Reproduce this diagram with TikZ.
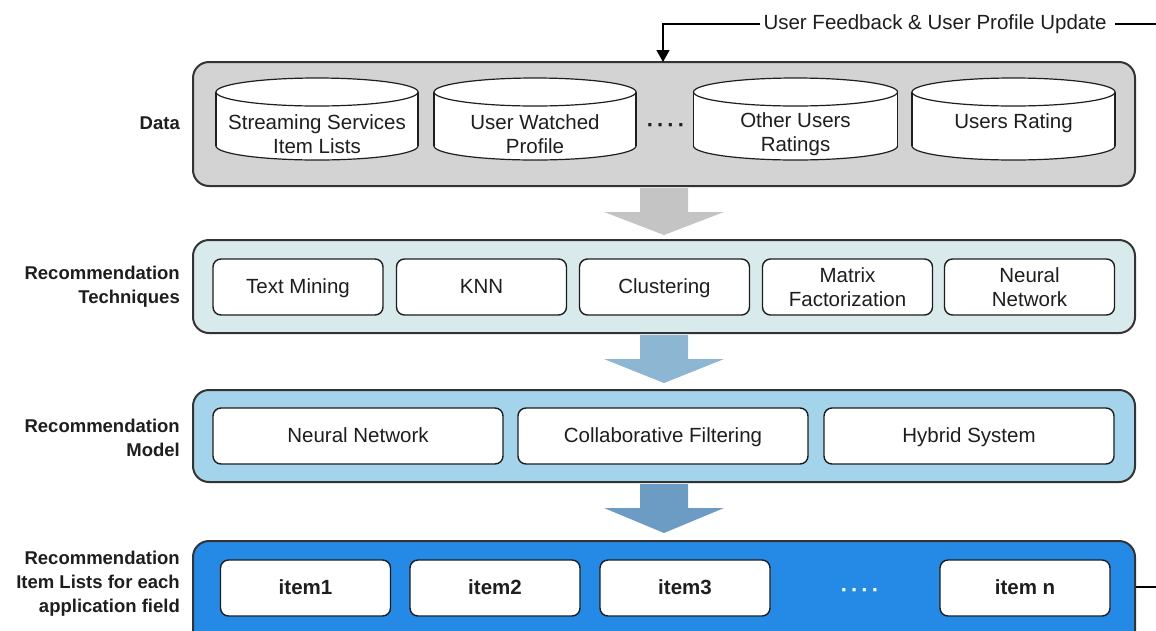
\documentclass[tikz,border=0pt]{standalone}
\usepackage{fontspec}
\setmainfont{Liberation Sans}
\usetikzlibrary{arrows.meta,calc}
\definecolor{txt}{HTML}{1E1E1E}
\definecolor{edge}{HTML}{333333}
\definecolor{datafill}{HTML}{D3D3D3}
\definecolor{techfill}{HTML}{D8EAEC}
\definecolor{modelfill}{HTML}{A3D4EC}
\definecolor{itemfill}{HTML}{2589E6}
\definecolor{arrowA}{HTML}{C4C4C4}
\definecolor{arrowB}{HTML}{8CB6D2}
\definecolor{arrowC}{HTML}{6C9CC4}
\tikzset{
  outerbox/.style={draw=edge, line width=2pt, rounded corners=16pt, inner sep=0pt},
  innerbox/.style={draw=txt, line width=1.4pt, fill=white, rounded corners=8pt, minimum height=56pt, align=center, text=txt, font=\fontsize{20.5}{24}\selectfont, inner sep=0pt},
  cyltext/.style={align=center, text=txt, font=\fontsize{20.5}{24}\selectfont, inner sep=0pt},
  oneline/.style={text height=17pt, text depth=4.5pt},
  dotstext/.style={text=txt, font=\bfseries\fontsize{22}{24}\selectfont, inner sep=0pt},
  sidelabel/.style={anchor=east, align=right, text=txt, font=\bfseries\fontsize{18.5}{24}\selectfont, inner sep=0pt},
  itemtext/.style={font=\bfseries\fontsize{20.5}{24}\selectfont},
  feedline/.style={line width=1.4pt, draw=black},
}
\newcommand{\dbcyl}[2]{% center x, half width
  \draw[fill=white, draw=txt, line width=1.2pt] (#1,146) ellipse [x radius=#2, y radius=14];
  \fill[white] (#1-#2,92) rectangle (#1+#2,146);
  \draw[draw=txt, line width=1.2pt] (#1-#2,92) -- (#1-#2,146) (#1+#2,92) -- (#1+#2,146);
  \draw[fill=white, draw=txt, line width=1.2pt] (#1,92) ellipse [x radius=#2, y radius=14];
}
\newcommand{\blockarrow}[4]{% from node, top-of-head y, tip y, colour
  \fill[#4] ($(#1.south)+(-24,1)$) -- ($(#1.south)+(24,1)$)
     -- ($(#1.south |- 0,#2)+(24,0)$) -- ($(#1.south |- 0,#2)+(60,0)$)
     -- (#1.south |- 0,#3) -- ($(#1.south |- 0,#2)+(-60,0)$) -- ($(#1.south |- 0,#2)+(-24,0)$) -- cycle;
}
\begin{document}
\begin{tikzpicture}[x=1pt,y=-1pt]
\useasboundingbox (0,0) rectangle (1156,630);
\clip (0,0) rectangle (1156,630);

% outer boxes
\node[outerbox, fill=datafill, minimum width=942pt, minimum height=124pt] (data) at (664,124) {};
\node[outerbox, fill=techfill, minimum width=942pt, minimum height=93pt] (tech) at (664,286.5) {};
\node[outerbox, fill=modelfill, minimum width=942pt, minimum height=92pt] (model) at (664,436) {};
\node[outerbox, fill=itemfill, minimum width=942pt, minimum height=112pt] (items) at (664,597) {};

% side labels
\node[sidelabel] (ldata) at (180,123) {Data};
\node[sidelabel] (ltech) at (180,287) {Recommendation\\Techniques};
\node[sidelabel] (lmodel) at (180,438) {Recommendation\\Model};
\node[sidelabel] (litems) at (180,584) {Recommendation\\Item Lists for each\\application field};

% data cylinders
\dbcyl{317}{101}
\dbcyl{535}{101}
\dbcyl{795.5}{102}
\dbcyl{1013.5}{101.5}
\node[cyltext] (d1) at (317,134) {Streaming Services\\Item Lists};
\node[cyltext] (d2) at (535,134) {User Watched\\Profile};
\node[dotstext] (ddots) at (666,128) {·\hspace{3pt}·\hspace{3pt}·\hspace{3pt}·};
\node[cyltext] (d3) at (795.5,134) {Other Users\\Ratings};
\node[cyltext, oneline] (d4) at (1013.5,122) {Users Rating};

% techniques
\node[innerbox, oneline, minimum width=170pt] (t1) at (298,287) {Text Mining};
\node[innerbox, oneline, minimum width=170pt] (t2) at (481.5,287) {KNN};
\node[innerbox, oneline, minimum width=170pt] (t3) at (664.5,287) {Clustering};
\node[innerbox, minimum width=170pt] (t4) at (847.5,287) {Matrix\\Factorization};
\node[innerbox, minimum width=170pt] (t5) at (1029.5,287) {Neural\\Network};

% models
\node[innerbox, oneline, minimum width=290pt] (m1) at (358,436) {Neural Network};
\node[innerbox, oneline, minimum width=290pt] (m2) at (663,436) {Collaborative Filtering};
\node[innerbox, oneline, minimum width=290pt] (m3) at (969,436) {Hybrid System};

% items
\node[innerbox, oneline, itemtext, minimum width=170pt] (i1) at (305.5,588) {item1};
\node[innerbox, oneline, itemtext, minimum width=170pt] (i2) at (495,588) {item2};
\node[innerbox, oneline, itemtext, minimum width=170pt] (i3) at (685,588) {item3};
\node[dotstext, text=white] (idots) at (860,593) {·\hspace{3pt}·\hspace{3pt}·\hspace{3pt}·};
\node[innerbox, oneline, itemtext, minimum width=170pt] (i4) at (1025,588) {item n};

% block arrows
\blockarrow{data}{212}{235}{arrowA}
\blockarrow{tech}{359}{383}{arrowB}
\blockarrow{model}{508}{533}{arrowC}

% feedback loop
\node[text=txt, font=\fontsize{20.5}{24}\selectfont, fill=white, inner sep=2pt] (fb) at (935,24) {User Feedback \& User Profile Update};
\coordinate (fbin) at (663,62);
\coordinate (fbout) at ($(items.east |- i4)+(60,-1)$);
\draw[feedline] ($(items.east |- i4)+(0,-1)$) -- (fbout) |- ([xshift=6pt]fb.east);
\draw[feedline, -{Triangle[length=12pt,width=13pt]}] ([xshift=-1pt]fb.west) -| (fbin);
\end{tikzpicture}
\end{document}
